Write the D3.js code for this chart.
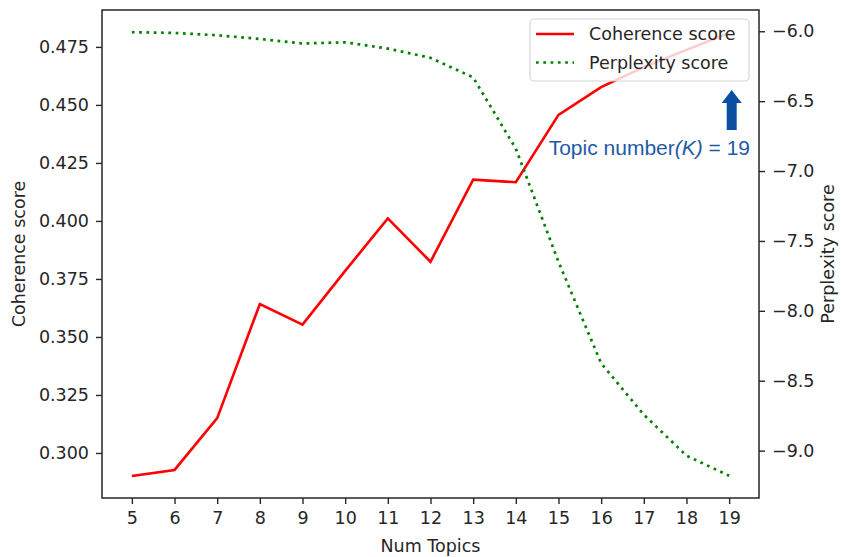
<!DOCTYPE html>
<html>
<head>
<meta charset="utf-8">
<script src="https://cdn.jsdelivr.net/npm/d3@7"></script>
<style>
  body { margin: 0; background: #fff; }
  text { font-family: "DejaVu Sans", sans-serif; fill: #262626; }
</style>
</head>
<body>
<svg width="841" height="557"></svg>
<script>
// data
var topics = [5, 6, 7, 8, 9, 10, 11, 12, 13, 14, 15, 16, 17, 18, 19];
var coherence = [0.2901, 0.2927, 0.3150, 0.3642, 0.3553, 0.3785, 0.4011, 0.3824, 0.4178, 0.4167, 0.4457, 0.4577, 0.4663, 0.4737, 0.4810];
var perplexity = [-6.007, -6.012, -6.029, -6.055, -6.088, -6.079, -6.124, -6.19, -6.33, -6.84, -7.65, -8.376, -8.743, -9.036, -9.18];
var leftTicks = [0.300, 0.325, 0.350, 0.375, 0.400, 0.425, 0.450, 0.475];
var rightTicks = [-9.0, -8.5, -8.0, -7.5, -7.0, -6.5, -6.0];
var legendLabels = ["Coherence score", "Perplexity score"];

var plotL = 102, plotR = 759, plotT = 10, plotB = 498;
var svg = d3.select("svg");

var x = d3.scaleLinear().domain([4.3, 19.7]).range([plotL, plotR]);
var yL = d3.scaleLinear().domain([0.2806, 0.4909]).range([plotB, plotT]);
var yR = d3.scaleLinear().domain([-9.339, -5.848]).range([plotB, plotT]);

// lines
var cohLine = d3.line().x(function(d, i) { return x(topics[i]); }).y(function(d) { return yL(d); });
var perLine = d3.line().x(function(d, i) { return x(topics[i]); }).y(function(d) { return yR(d); });

svg.append("path").datum(coherence)
    .attr("d", cohLine).attr("fill", "none")
    .attr("stroke", "#ff0000").attr("stroke-width", 2.6);

svg.append("path").datum(perplexity)
    .attr("d", perLine).attr("fill", "none")
    .attr("stroke", "#008000").attr("stroke-width", 2.7)
    .attr("stroke-dasharray", "2.7,4.6");

// axes
var xaxis = d3.axisBottom(x).tickValues(topics).tickSize(6).tickPadding(8);
var yaxisL = d3.axisLeft(yL).tickValues(leftTicks).tickFormat(d3.format(".3f")).tickSize(6).tickPadding(7);
var yaxisR = d3.axisRight(yR).tickValues(rightTicks).tickFormat(d3.format(".1f")).tickSize(6).tickPadding(7);

function style(g) {
    g.select(".domain").remove();
    g.selectAll("line").attr("stroke", "#262626").attr("stroke-width", 1.4);
    g.selectAll("text").attr("font-size", "17.5px").attr("fill", "#262626")
        .style("font-family", "'DejaVu Sans', sans-serif");
}
svg.append("g").attr("transform", "translate(0," + plotB + ")").call(xaxis).call(style);
svg.append("g").attr("transform", "translate(" + plotL + ",0)").call(yaxisL).call(style);
svg.append("g").attr("transform", "translate(" + plotR + ",0)").call(yaxisR).call(style);

// frame
svg.append("rect")
    .attr("x", plotL).attr("y", plotT)
    .attr("width", plotR - plotL).attr("height", plotB - plotT)
    .attr("fill", "none").attr("stroke", "#262626").attr("stroke-width", 1.5);

// axis labels
svg.append("text").attr("x", (plotL + plotR) / 2).attr("y", 552)
    .attr("text-anchor", "middle").attr("font-size", "17.5px").text("Num Topics");
svg.append("text").attr("transform", "translate(25," + (plotT + plotB) / 2 + ") rotate(-90)")
    .attr("text-anchor", "middle").attr("font-size", "17.5px").text("Coherence score");
svg.append("text").attr("transform", "translate(834," + (plotT + plotB) / 2 + ") rotate(-90)")
    .attr("text-anchor", "middle").attr("font-size", "17.5px").text("Perplexity score");

// legend
var lg = svg.append("g");
lg.append("rect").attr("x", 530).attr("y", 19).attr("width", 219).attr("height", 62)
    .attr("rx", 4).attr("fill", "#fff").attr("fill-opacity", 0.8)
    .attr("stroke", "#d6d6d6").attr("stroke-width", 1.2);
var legendStyles = [
    { color: "#ff0000", dash: null, w: 2.6 },
    { color: "#008000", dash: "2.7,4.6", w: 2.7 }
];
legendLabels.forEach(function(lab, i) {
    var yy = 34 + i * 28.5;
    lg.append("line").attr("x1", 536).attr("x2", 574).attr("y1", yy).attr("y2", yy)
        .attr("stroke", legendStyles[i].color).attr("stroke-width", legendStyles[i].w)
        .attr("stroke-dasharray", legendStyles[i].dash);
    lg.append("text").attr("x", 589).attr("y", yy).attr("dy", "0.35em")
        .attr("font-size", "17.5px").text(lab);
});

// annotation: arrow + label
var ax = x(19.06), tip = yL(0.4564), base = yL(0.4392);
svg.append("path")
    .attr("d", "M" + ax + "," + tip +
        " L" + (ax + 10) + "," + (tip + 13) +
        " L" + (ax + 5) + "," + (tip + 13) +
        " L" + (ax + 5) + "," + base +
        " L" + (ax - 5) + "," + base +
        " L" + (ax - 5) + "," + (tip + 13) +
        " L" + (ax - 10) + "," + (tip + 13) + " Z")
    .attr("fill", "#0b50a0");

var ann = svg.append("text")
    .attr("x", x(19.49)).attr("y", yL(0.4282))
    .attr("text-anchor", "end")
    .style("font-family", "'Liberation Sans', Arial, sans-serif")
    .style("fill", "#1f5aa6")
    .attr("font-size", "21px");
ann.append("tspan").text("Topic number");
ann.append("tspan").attr("font-style", "italic").text("(K)");
ann.append("tspan").text(" = 19");
</script>
</body>
</html>
